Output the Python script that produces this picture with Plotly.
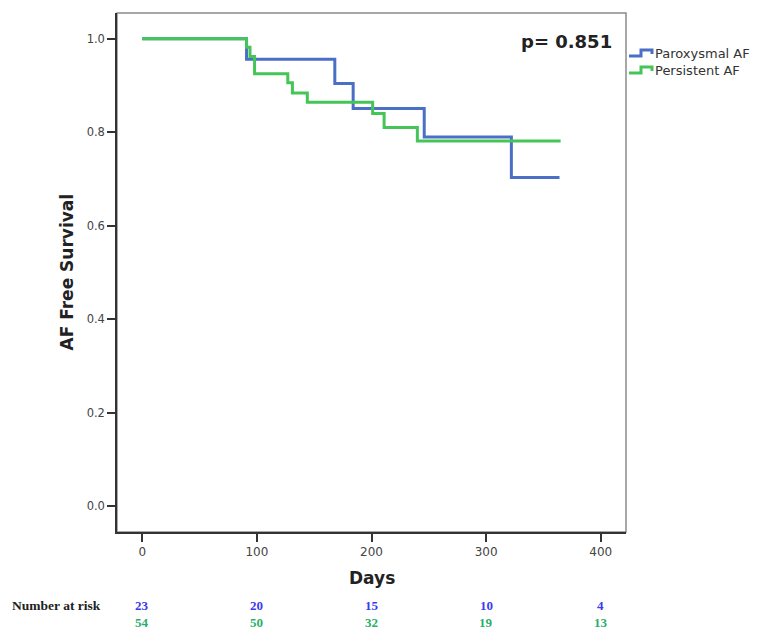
import plotly.graph_objects as go

# Kaplan-Meier estimates (days, survival)
parox_days = [0, 91, 168, 184, 246, 322, 364]
parox_surv = [1.0, 0.956, 0.904, 0.851, 0.790, 0.703, 0.703]

pers_days = [0, 91, 94, 98, 127, 131, 144, 201, 211, 240, 365]
pers_surv = [1.0, 0.982, 0.962, 0.925, 0.906, 0.884, 0.864, 0.840, 0.810, 0.781, 0.781]

risk_days = [0, 100, 200, 300, 400]
risk_parox = [23, 20, 15, 10, 4]
risk_pers = [54, 50, 32, 19, 13]

p_text = "p= 0.851"

BLUE = "#4b6fc6"
GREEN = "#45c457"

# page body has an 8px margin, so screen positions are shifted by OFF
OFF = 8
# plot area in screen pixels
L, R, T, B = 117, 626, 13, 532
def px(x):
    return (x - L) / (R - L)
def py(y):
    return (B - y) / (B - T)

fig = go.Figure()
fig.add_trace(go.Scatter(x=parox_days, y=parox_surv, mode="lines", line_shape="hv",
                         line=dict(color=BLUE, width=3), name="Paroxysmal AF"))
fig.add_trace(go.Scatter(x=pers_days, y=pers_surv, mode="lines", line_shape="hv",
                         line=dict(color=GREEN, width=3), name="Persistent AF"))

fig.update_layout(
    width=763, height=636,
    margin=dict(l=L - OFF, r=763 - R + OFF, t=T - OFF, b=636 - B + OFF),
    plot_bgcolor="white", paper_bgcolor="white",
    showlegend=False,
    font=dict(family="DejaVu Sans", color="#333"),
)
fig.update_xaxes(range=[-22, 422], tickvals=risk_days, showgrid=False, zeroline=False,
                 showline=True, linecolor="#333", linewidth=1.5,
                 ticks="outside", ticklen=8, tickwidth=1.5, tickcolor="#333",
                 tickfont=dict(size=12, color="#444"))
fig.update_yaxes(range=[-0.055, 1.055], tickvals=[0, 0.2, 0.4, 0.6, 0.8, 1.0], tickformat=".1f",
                 showgrid=False, zeroline=False,
                 showline=True, linecolor="#333", linewidth=1.5,
                 ticks="outside", ticklen=8, tickwidth=1.5, tickcolor="#333",
                 tickfont=dict(size=11.5, color="#444"))

# grey frame on top/right
fig.add_shape(type="rect", xref="paper", yref="paper", x0=0, x1=1, y0=0, y1=1,
              line=dict(color="#8a8a8a", width=1.5), layer="below")

# axis titles
fig.add_annotation(text="<b>AF Free Survival</b>", xref="paper", yref="paper",
                   x=px(66), y=0.5, xanchor="center", yanchor="middle",
                   textangle=-90, showarrow=False, font=dict(size=17, color="#222"))
fig.add_annotation(text="<b>Days</b>", xref="paper", yref="paper",
                   x=0.5, y=py(578), xanchor="center", yanchor="middle",
                   showarrow=False, font=dict(size=17, color="#222"))
fig.add_annotation(text="<b>" + p_text + "</b>", xref="paper", yref="paper",
                   x=px(614), y=py(42), xanchor="right", yanchor="middle", showarrow=False,
                   font=dict(size=18, color="#222"))

# legend drawn by hand (step icons)
for name, col, yc in [("Paroxysmal AF", BLUE, 53), ("Persistent AF", GREEN, 70)]:
    path = "M {} {} L {} {} L {} {} L {} {} L {} {}".format(
        px(629), py(yc + 3), px(641), py(yc + 3), px(641), py(yc - 3),
        px(652), py(yc - 3), px(652), py(yc + 1))
    fig.add_shape(type="path", xref="paper", yref="paper", path=path,
                  line=dict(color=col, width=3))
    fig.add_annotation(text=name, xref="paper", yref="paper", x=px(653), y=py(yc),
                       xanchor="left", yanchor="middle", showarrow=False,
                       font=dict(size=13, color="#333"))

# number at risk table
fig.add_annotation(text="<b>Number at risk</b>", xref="paper", yref="paper",
                   x=px(10), y=py(605), xanchor="left", yanchor="middle", showarrow=False,
                   font=dict(family="Liberation Serif", size=13.5, color="#222"))
for d, a, b in zip(risk_days, risk_parox, risk_pers):
    fig.add_annotation(text="<b>%d</b>" % a, xref="x", yref="paper", x=d, y=py(605),
                       yanchor="middle", showarrow=False,
                       font=dict(family="Liberation Serif", size=13, color="#3a3af0"))
    fig.add_annotation(text="<b>%d</b>" % b, xref="x", yref="paper", x=d, y=py(622),
                       yanchor="middle", showarrow=False,
                       font=dict(family="Liberation Serif", size=13, color="#2aae6c"))

fig.write_html("out.html")
